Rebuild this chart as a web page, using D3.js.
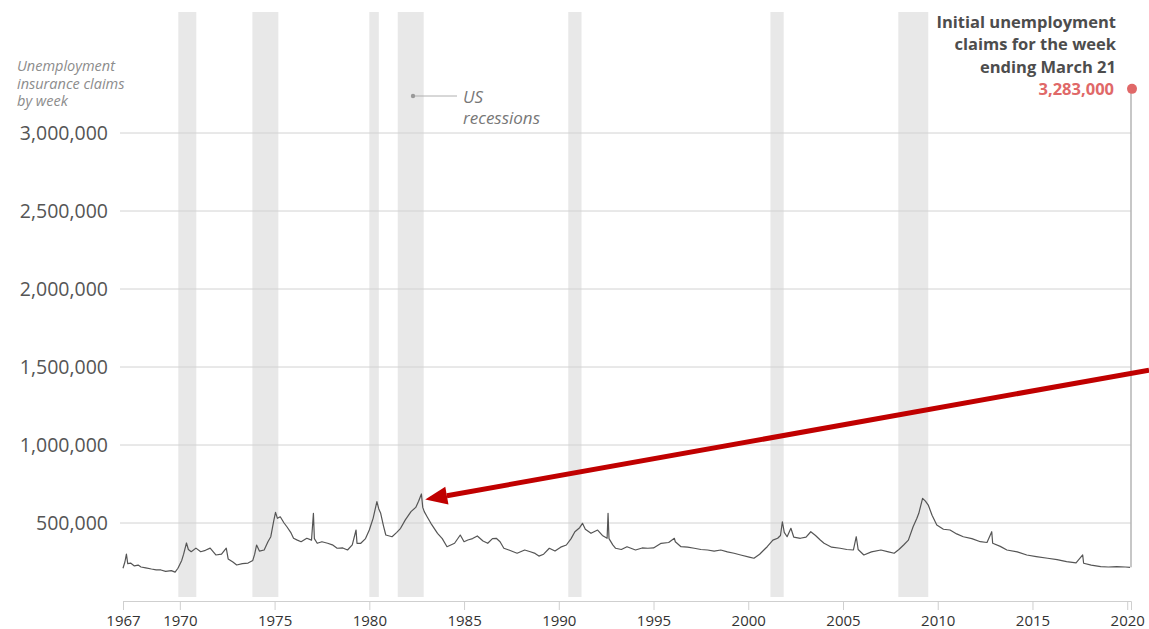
<!DOCTYPE html>
<html>
<head>
<meta charset="utf-8">
<script src="https://cdn.jsdelivr.net/npm/d3@7"></script>
<style>
  body { margin: 0; background: #fff; }
  svg { display: block; font-family: "Open Sans", "Liberation Sans", sans-serif; }
</style>
</head>
<body>
<svg id="chart" width="1149" height="629"></svg>
<script>
// weekly initial claims (decimal year, thousands)
const weeks = [
  1967.00, 1967.10, 1967.18, 1967.25, 1967.40, 1967.60, 1967.80, 1967.95, 1968.20, 1968.50,
  1968.75, 1969.00, 1969.25, 1969.55, 1969.75, 1969.90, 1970.10, 1970.20, 1970.35, 1970.45,
  1970.60, 1970.85, 1971.10, 1971.35, 1971.60, 1971.90, 1972.20, 1972.45, 1972.55, 1972.80,
  1973.00, 1973.30, 1973.60, 1973.85, 1973.95, 1974.05, 1974.20, 1974.45, 1974.65, 1974.80,
  1974.95, 1975.05, 1975.15, 1975.30, 1975.50, 1975.65, 1975.85, 1976.00, 1976.20, 1976.40,
  1976.70, 1976.95, 1977.05, 1977.10, 1977.25, 1977.50, 1977.80, 1978.05, 1978.30, 1978.60,
  1978.85, 1979.10, 1979.30, 1979.35, 1979.55, 1979.80, 1980.00, 1980.20, 1980.40, 1980.50,
  1980.60, 1980.75, 1980.87, 1981.20, 1981.45, 1981.65, 1981.90, 1982.20, 1982.45, 1982.60,
  1982.75, 1982.82, 1982.90, 1983.05, 1983.25, 1983.60, 1983.85, 1984.10, 1984.50, 1984.80,
  1985.00, 1985.20, 1985.45, 1985.70, 1986.00, 1986.25, 1986.50, 1986.70, 1986.90, 1987.10,
  1987.40, 1987.80, 1988.20, 1988.50, 1988.75, 1988.95, 1989.20, 1989.50, 1989.80, 1990.10,
  1990.40, 1990.65, 1990.85, 1991.10, 1991.25, 1991.40, 1991.70, 1992.05, 1992.30, 1992.55,
  1992.60, 1992.65, 1992.85, 1993.00, 1993.30, 1993.60, 1994.05, 1994.40, 1994.70, 1995.00,
  1995.40, 1995.80, 1996.10, 1996.15, 1996.45, 1996.80, 1997.15, 1997.50, 1997.85, 1998.20,
  1998.55, 1998.90, 1999.25, 1999.60, 2000.10, 2000.30, 2000.60, 2000.85, 2001.00, 2001.30,
  2001.55, 2001.70, 2001.80, 2001.90, 2002.05, 2002.25, 2002.40, 2002.75, 2003.05, 2003.30,
  2003.55, 2003.80, 2004.00, 2004.40, 2004.85, 2005.20, 2005.55, 2005.70, 2005.80, 2006.10,
  2006.50, 2007.00, 2007.40, 2007.70, 2007.95, 2008.20, 2008.45, 2008.70, 2008.90, 2009.00,
  2009.20, 2009.35, 2009.50, 2009.70, 2009.95, 2010.30, 2010.65, 2011.00, 2011.35, 2011.80,
  2012.25, 2012.60, 2012.85, 2012.90, 2013.30, 2013.65, 2014.20, 2014.70, 2015.20, 2015.80,
  2016.30, 2016.80, 2017.30, 2017.65, 2017.70, 2018.10, 2018.60, 2019.00, 2019.45, 2019.90,
  2020.15
];
const claims = [
  210, 250, 301, 240, 243, 225, 230, 218, 212, 205,
  200, 199, 190, 195, 185, 210, 260, 300, 372, 330,
  316, 339, 316, 325, 339, 295, 300, 339, 270, 250,
  231, 240, 243, 260, 300, 359, 320, 327, 380, 412,
  510, 568, 530, 540, 500, 476, 440, 402, 390, 380,
  402, 390, 562, 400, 370, 380, 370, 360, 338, 340,
  327, 360, 455, 370, 370, 400, 455, 530, 637, 590,
  562, 480, 423, 412, 440, 466, 520, 573, 600, 640,
  686, 600, 573, 540, 498, 434, 400, 348, 370, 423,
  380, 391, 400, 417, 385, 370, 400, 402, 380, 338,
  325, 306, 327, 316, 305, 288, 300, 338, 320, 345,
  359, 400, 444, 470, 498, 460, 434, 455, 420, 402,
  562, 400, 360, 338, 330, 348, 327, 340, 338, 340,
  370, 375, 402, 380, 348, 345, 338, 330, 327, 320,
  327, 315, 306, 295, 280, 274, 300, 330, 348, 390,
  402, 420, 508, 440, 412, 466, 410, 402, 410, 444,
  420, 391, 370, 345, 338, 330, 327, 412, 330, 295,
  315, 327, 315, 306, 330, 359, 390, 476, 530, 562,
  658, 640, 615, 550, 487, 460, 455, 430, 412, 400,
  380, 375, 444, 370, 350, 327, 315, 295, 285, 274,
  265, 252, 245, 295, 242, 230, 220, 218, 220, 218,
  216
];

const latestWeek = 2020.2;
const latestClaims = 3283000;

const recessionStarts = [1969.92, 1973.83, 1980.0, 1981.5, 1990.5, 2001.17, 2007.92];
const recessionEnds = [1970.87, 1975.2, 1980.5, 1982.87, 1991.2, 2001.87, 2009.5];

const yTicks = [500000, 1000000, 1500000, 2000000, 2500000, 3000000];
const xTicks = [1967, 1970, 1975, 1980, 1985, 1990, 1995, 2000, 2005, 2010, 2015, 2020];

const svg = d3.select("#chart");
const width = 1149;

const x = d3.scaleLinear()
    .domain([1967, latestWeek])
    .range([123, 1131]);

const y = d3.scaleLinear()
    .domain([0, 3000000])
    .range([601, 133]);

// recession bands
svg.append("g")
    .selectAll("rect")
    .data(recessionStarts)
    .join("rect")
    .attr("x", d => x(d))
    .attr("width", (d, i) => x(recessionEnds[i]) - x(d))
    .attr("y", 12)
    .attr("height", 585)
    .attr("fill", "#e8e8e8");

// gridlines + y labels
const grid = svg.append("g");
grid.selectAll("line")
    .data(yTicks)
    .join("line")
    .attr("x1", 120)
    .attr("x2", x(latestWeek))
    .attr("y1", d => y(d))
    .attr("y2", d => y(d))
    .attr("stroke", "#d2d2d2")
    .attr("stroke-width", 1);

grid.selectAll("text")
    .data(yTicks)
    .join("text")
    .attr("x", 108)
    .attr("y", d => y(d))
    .attr("dy", "0.36em")
    .attr("text-anchor", "end")
    .attr("fill", "#555")
    .style("font-size", "19.5px")
    .text(d => d3.format(",")(d));

// x axis
const xAxis = svg.append("g")
    .attr("transform", `translate(0,${y(0)})`)
    .call(d3.axisBottom(x)
        .tickValues(xTicks)
        .tickFormat(d3.format("d"))
        .tickSize(9)
        .tickPadding(5));
xAxis.select(".domain").attr("stroke", "#cfcfcf");
xAxis.selectAll(".tick line").attr("stroke", "#cfcfcf");
xAxis.selectAll(".tick text")
    .attr("fill", "#333")
    .style("font-size", "15px")
    .style("font-family", "\"Open Sans\", sans-serif");

// claims line
const series = weeks.map((w, i) => ({ w, v: claims[i] * 1000 }));
const line = d3.line()
    .x(d => x(d.w))
    .y(d => y(d.v));

svg.append("path")
    .datum(series)
    .attr("d", line)
    .attr("fill", "none")
    .attr("stroke", "#555")
    .attr("stroke-width", 1.2)
    .attr("stroke-linejoin", "round");

// jump to latest week
const last = series[series.length - 1];
svg.append("line")
    .attr("x1", x(latestWeek))
    .attr("x2", x(latestWeek))
    .attr("y1", y(last.v))
    .attr("y2", y(latestClaims))
    .attr("stroke", "#b5b5b5")
    .attr("stroke-width", 1.5);

svg.append("circle")
    .attr("cx", x(latestWeek) + 1)
    .attr("cy", y(latestClaims))
    .attr("r", 5)
    .attr("fill", "#e06868");

// annotation text
const note = svg.append("text")
    .attr("text-anchor", "end")
    .attr("fill", "#4d4d4d")
    .style("font-size", "16.5px")
    .style("font-weight", 700);
["Initial unemployment", "claims for the week", "ending March 21"].forEach((t, i) => {
    note.append("tspan").attr("x", 1116).attr("y", 28 + i * 22.3).text(t);
});
svg.append("text")
    .attr("x", 1114)
    .attr("y", 95)
    .attr("text-anchor", "end")
    .attr("fill", "#e06868")
    .style("font-size", "16.5px")
    .style("font-weight", 700)
    .text(d3.format(",")(latestClaims));

// y-axis title
const title = svg.append("text")
    .attr("fill", "#8c8c8c")
    .style("font-size", "14.5px")
    .style("font-style", "italic");
["Unemployment", "insurance claims", "by week"].forEach((t, i) => {
    title.append("tspan").attr("x", 17).attr("y", 71 + i * 17.5).text(t);
});

// recession legend
svg.append("line")
    .attr("x1", 413).attr("x2", 457)
    .attr("y1", 96).attr("y2", 96)
    .attr("stroke", "#b0b0b0");
svg.append("circle")
    .attr("cx", 413).attr("cy", 96).attr("r", 2.2)
    .attr("fill", "#999");
svg.append("text")
    .attr("x", 463).attr("y", 103)
    .attr("fill", "#777")
    .style("font-size", "17px")
    .style("font-style", "italic")
    .text("US");
svg.append("text")
    .attr("x", 463).attr("y", 124)
    .attr("fill", "#777")
    .style("font-size", "17px")
    .style("font-style", "italic")
    .text("recessions");

// red arrow pointing at the 1982 peak
const tipX = x(1982.95), tipY = y(650000);
const tailX = width, tailY = y(1480000);
const ang = Math.atan2(tailY - tipY, tailX - tipX);
const headLen = 22, headW = 9;
const bx = tipX + Math.cos(ang) * headLen, by = tipY + Math.sin(ang) * headLen;
svg.append("line")
    .attr("x1", bx).attr("y1", by)
    .attr("x2", tailX).attr("y2", tailY)
    .attr("stroke", "#c00000")
    .attr("stroke-width", 5);
svg.append("path")
    .attr("d", d3.line()([
        [tipX, tipY],
        [bx - Math.sin(ang) * headW, by + Math.cos(ang) * headW],
        [bx + Math.sin(ang) * headW, by - Math.cos(ang) * headW]
    ]) + "Z")
    .attr("fill", "#c00000");
</script>
</body>
</html>
